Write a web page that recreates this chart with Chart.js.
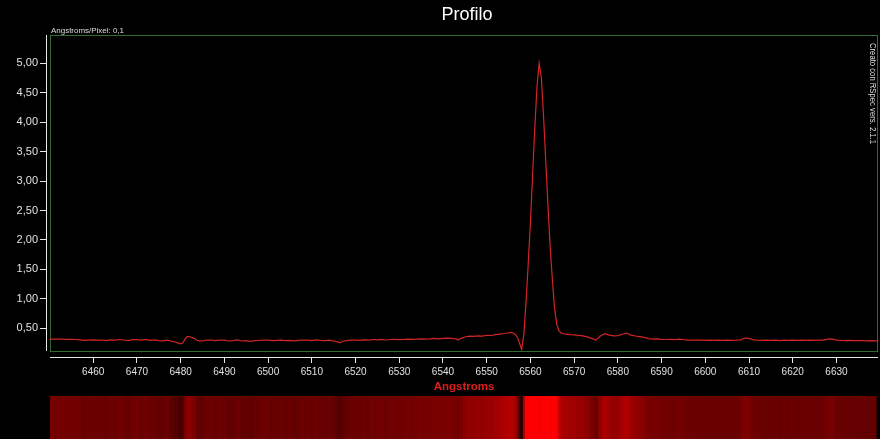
<!DOCTYPE html>
<html><head><meta charset="utf-8">
<script src="https://cdn.jsdelivr.net/npm/chart.js@4.4.1/dist/chart.umd.min.js"></script>
<style>html,body{margin:0;padding:0;background:#000;overflow:hidden}canvas{display:block}</style>
</head><body>
<canvas id="c" width="880" height="439"></canvas>
<script>
// Wavelengths (Angstroms)
const wavelengths = [
  6450,6451,6452,6453,6454,6455,6456,6457,6458,6459,
  6460,6461,6462,6463,6464,6465,6466,6467,6468,6469,
  6470,6471,6472,6473,6474,6475,6476,6477,6478,6479,
  6480,6480.5,6481,6481.5,6482,6483,6484,6485,6486,6487,
  6488,6489,6490,6491,6492,6493,6494,6495,6496,6497,
  6498,6499,6500,6501,6502,6503,6504,6505,6506,6507,
  6508,6509,6510,6511,6512,6513,6514,6515,6516,6516.5,
  6517,6518,6519,6520,6521,6522,6523,6524,6525,6526,
  6527,6528,6529,6530,6531,6532,6533,6534,6535,6536,
  6537,6538,6539,6540,6541,6542,6543,6543.5,6544,6545,
  6546,6547,6548,6549,6550,6551,6552,6553,6554,6555,
  6555.5,6556,6556.5,6557,6557.5,6558,6558.5,6559,6559.5,6560,
  6560.5,6561,6561.5,6562,6562.5,6563,6563.5,6564,6564.5,6565,
  6565.5,6566,6566.5,6567,6568,6569,6570,6571,6572,6573,
  6574,6575,6576,6577,6578,6579,6580,6581,6582,6583,
  6584,6585,6586,6587,6588,6589,6590,6591,6592,6593,
  6594,6595,6596,6597,6598,6599,6600,6601,6602,6603,
  6604,6605,6606,6607,6608,6609,6610,6611,6612,6613,
  6614,6615,6616,6617,6618,6619,6620,6621,6622,6623,
  6624,6625,6626,6627,6628,6629,6630,6631,6632,6633,
  6634,6635,6636,6637,6638,6639,6639.5
];
// Relative intensity
const flux = [
  .315,.315,.318,.316,.312,.314,.310,.305,.295,.300,
  .305,.300,.302,.292,.305,.298,.310,.302,.292,.308,
  .310,.300,.312,.295,.302,.290,.288,.298,.280,.262,
  .235,.250,.320,.360,.360,.330,.290,.285,.300,.302,
  .292,.302,.298,.285,.292,.302,.285,.292,.278,.292,
  .295,.302,.300,.292,.295,.298,.292,.295,.288,.295,
  .302,.298,.292,.302,.295,.292,.300,.282,.270,.255,
  .280,.292,.300,.302,.295,.305,.300,.310,.305,.312,
  .302,.310,.312,.308,.312,.318,.312,.318,.322,.318,
  .322,.328,.322,.328,.332,.328,.320,.300,.325,.352,
  .368,.362,.372,.368,.382,.378,.392,.402,.412,.425,
  .430,.420,.400,.350,.250,.140,.400,.950,1.60,2.30,
  3.10,3.90,4.60,5.00,4.75,4.10,3.35,2.60,1.90,1.35,
  .850,.580,.460,.420,.400,.392,.390,.380,.372,.355,
  .330,.300,.370,.410,.385,.372,.375,.400,.420,.385,
  .370,.360,.345,.325,.318,.322,.312,.310,.312,.308,
  .318,.310,.300,.302,.298,.300,.295,.298,.295,.298,
  .295,.298,.295,.298,.305,.335,.330,.305,.298,.295,
  .298,.295,.298,.292,.298,.295,.298,.295,.298,.295,
  .298,.295,.298,.300,.315,.322,.300,.295,.292,.295,
  .290,.292,.290,.288,.290,.288,.288
];
const xTicks = [6460,6470,6480,6490,6500,6510,6520,6530,6540,6550,6560,6570,6580,6590,6600,6610,6620,6630];
const yTicks = [0.5,1.0,1.5,2.0,2.5,3.0,3.5,4.0,4.5,5.0];

const FONT = "'Liberation Sans', Arial, sans-serif";

const decor = {
  id: 'decor',
  beforeDraw(chart) {
    const c = chart.ctx;
    c.save(); c.fillStyle = '#000'; c.fillRect(0, 0, chart.width, chart.height); c.restore();
  },
  beforeDatasetsDraw(chart) {
    const { ctx, chartArea: a } = chart;
    ctx.save();
    ctx.strokeStyle = '#2f6a2f'; ctx.lineWidth = 1;
    ctx.strokeRect(a.left + 4.5, a.top + 0.5, a.right - a.left - 5, a.bottom - a.top - 6);
    ctx.strokeStyle = '#e8e8e8';
    ctx.beginPath();
    ctx.moveTo(a.left + 0.5, a.top); ctx.lineTo(a.left + 0.5, a.bottom - 6);
    ctx.moveTo(a.left + 4, a.bottom + 0.5); ctx.lineTo(a.right, a.bottom + 0.5);
    ctx.stroke();
    ctx.restore();
  },
  afterDraw(chart) {
    const { ctx, chartArea: a } = chart;
    const xs = chart.scales.x;
    ctx.save();
    // spectrum strip built from the profile values
    const stripTop = 396, stripBot = 439, sL = a.left + 4, sR = a.right - 2;
    for (let i = 0; i < wavelengths.length; i++) {
      const w0 = i === 0 ? wavelengths[0] : (wavelengths[i - 1] + wavelengths[i]) / 2;
      const w1 = i === wavelengths.length - 1 ? wavelengths[i] : (wavelengths[i] + wavelengths[i + 1]) / 2;
      let x0 = Math.max(sL, xs.getPixelForValue(w0));
      let x1 = Math.min(sR, xs.getPixelForValue(w1));
      if (x1 <= x0) continue;
      let b = (flux[i] - 0.12) / 0.43; b = Math.max(0, Math.min(1, b));
      ctx.fillStyle = 'rgb(' + Math.round(255 * b) + ',0,0)';
      ctx.fillRect(x0, stripTop, x1 - x0 + 0.6, stripBot - stripTop);
    }
    // title
    ctx.fillStyle = '#ffffff';
    ctx.font = '18px ' + FONT;
    ctx.textAlign = 'center'; ctx.textBaseline = 'middle';
    ctx.fillText('Profilo', 467, 15);
    // x axis title
    ctx.fillStyle = '#e01e1e';
    ctx.font = 'bold 11.5px ' + FONT;
    ctx.fillText('Angstroms', 464, 387);
    // small caption
    ctx.fillStyle = '#dddddd';
    ctx.font = '8px ' + FONT;
    ctx.textAlign = 'left'; ctx.textBaseline = 'alphabetic';
    const cap = 'Angstroms/Pixel: 0,1';
    const cw = ctx.measureText(cap).width;
    ctx.save(); ctx.translate(51, 32.5); ctx.scale(73 / cw, 1); ctx.fillText(cap, 0, 0); ctx.restore();
    // rotated credit
    const cr = 'Creato con RSpec vers. 2.1.1';
    ctx.font = '9px ' + FONT;
    const crw = ctx.measureText(cr).width;
    ctx.save(); ctx.translate(872.5, 43); ctx.rotate(Math.PI / 2); ctx.scale(101 / crw, 1);
    ctx.textBaseline = 'middle'; ctx.fillText(cr, 0, 0); ctx.restore();
    ctx.restore();
  }
};

new Chart(document.getElementById('c'), {
  type: 'line',
  data: {
    datasets: [{
      data: wavelengths.map((w, i) => ({ x: w, y: flux[i] })),
      borderColor: '#d42424',
      borderWidth: 1.2,
      pointRadius: 0,
      tension: 0,
      fill: false
    }]
  },
  options: {
    responsive: false,
    devicePixelRatio: 1,
    animation: false,
    layout: { padding: { top: 35, right: 2, bottom: 0, left: 0 } },
    plugins: { legend: { display: false }, title: { display: false }, tooltip: { enabled: false } },
    scales: {
      x: {
        type: 'linear', min: 6449.2, max: 6639.5,
        afterBuildTicks: s => { s.ticks = xTicks.map(v => ({ value: v })); },
        afterFit: s => { s.height = 82; },
        border: { display: false },
        grid: { drawOnChartArea: false, drawTicks: true, tickLength: 6, color: '#e8e8e8' },
        ticks: { color: '#e0e0e0', font: { family: FONT, size: 10 }, padding: 3, maxRotation: 0, autoSkip: false,
                 callback: v => String(v) }
      },
      y: {
        type: 'linear', min: 0.013, max: 5.48,
        afterBuildTicks: s => { s.ticks = yTicks.map(v => ({ value: v })); },
        afterFit: s => { s.width = 46; },
        border: { display: false },
        grid: { drawOnChartArea: false, drawTicks: true, tickLength: 6, color: '#e8e8e8' },
        ticks: { color: '#e0e0e0', font: { family: FONT, size: 11 }, padding: 2, autoSkip: false,
                 callback: v => Number(v).toFixed(2).replace('.', ',') }
      }
    }
  },
  plugins: [decor]
});
</script>
</body></html>
